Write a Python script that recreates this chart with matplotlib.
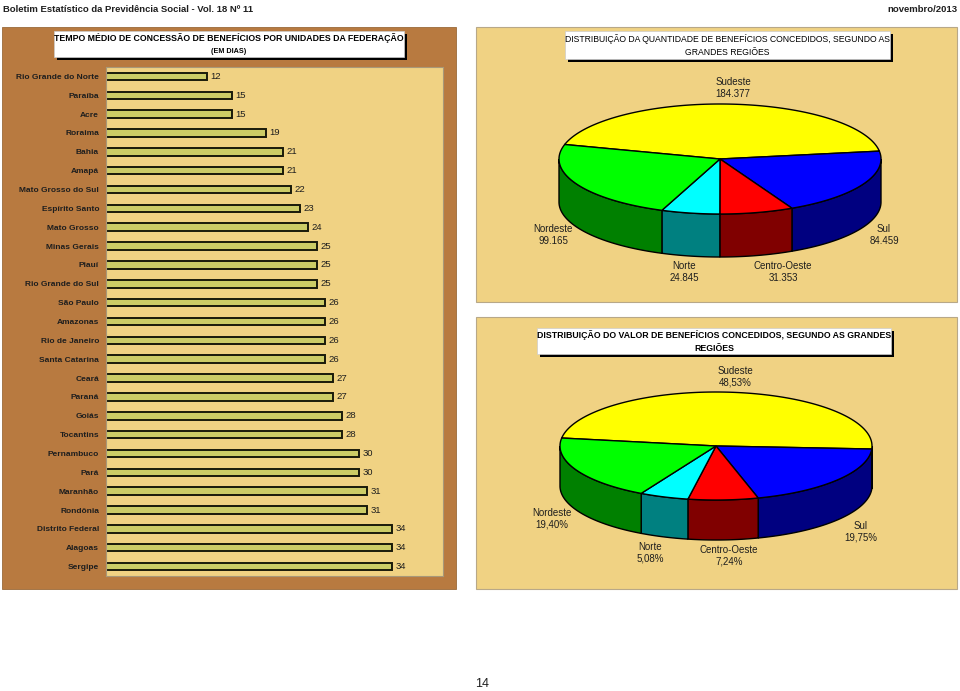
import numpy as np
import matplotlib.pyplot as plt
from matplotlib.patches import Rectangle, Polygon

plt.rcParams['font.family'] = ['Liberation Sans', 'DejaVu Sans']

W, H = 960, 691

# dados - tempo médio de concessão (dias)
estados = ['Rio Grande do Norte', 'Paraíba', 'Acre', 'Roraima', 'Bahia', 'Amapá',
           'Mato Grosso do Sul', 'Espírito Santo', 'Mato Grosso', 'Minas Gerais',
           'Piauí', 'Rio Grande do Sul', 'São Paulo', 'Amazonas', 'Rio de Janeiro',
           'Santa Catarina', 'Ceará', 'Paraná', 'Goiás', 'Tocantins', 'Pernambuco',
           'Pará', 'Maranhão', 'Rondônia', 'Distrito Federal', 'Alagoas', 'Sergipe']
dias = [12, 15, 15, 19, 21, 21, 22, 23, 24, 25, 25, 25, 26, 26, 26, 26,
        27, 27, 28, 28, 30, 30, 31, 31, 34, 34, 34]

# dados - grandes regiões
regioes = ['Sudeste', 'Sul', 'Centro-Oeste', 'Norte', 'Nordeste']
quantidade = [184377, 84459, 31353, 24845, 99165]
valor_pct = [48.53, 19.75, 7.24, 5.08, 19.40]

cor_topo = ['#FFFF00', '#0000FF', '#FF0000', '#00FFFF', '#00FF00']
cor_lado = ['#808000', '#000080', '#800000', '#008080', '#008000']

MARROM = '#B87A40'
BEGE = '#F0D283'
TXT = '#1e1e1e'

fig = plt.figure(figsize=(W / 100, H / 100), dpi=100)
bg = fig.add_axes([0, 0, 1, 1])
bg.set_xlim(0, W)
bg.set_ylim(H, 0)
bg.axis('off')


def px_axes(x0, y0, x1, y1):
    return fig.add_axes([x0 / W, 1 - y1 / H, (x1 - x0) / W, (y1 - y0) / H])


def caixa_titulo(x0, y0, x1, y1, linhas, tamanhos, peso='bold'):
    bg.add_patch(Rectangle((x0 + 3, y0 + 3), x1 - x0, y1 - y0, fc='black', ec='none', zorder=5))
    bg.add_patch(Rectangle((x0, y0), x1 - x0, y1 - y0, fc='white', ec='#cccccc', lw=0.5, zorder=6))
    n = len(linhas)
    h = (y1 - y0) / n
    for i, (s, fs) in enumerate(zip(linhas, tamanhos)):
        bg.text((x0 + x1) / 2, y0 + h * (i + 0.5) + 0.5, s, ha='center', va='center',
                fontsize=fs, fontweight=peso, color='black', zorder=7)


def pizza3d(valores, cx, cy, a, b, prof, inicio):
    total = sum(valores)
    ang = inicio
    for v, ct, cl in zip(valores, cor_topo, cor_lado):
        giro = 360.0 * v / total
        hi, lo = ang, ang - giro
        # paredes laterais visíveis (metade da frente)
        for k in range(-2, 3):
            f0 = max(lo, 180 + 360 * k)
            f1 = min(hi, 360 + 360 * k)
            if f1 > f0:
                t = np.radians(np.linspace(f0, f1, 80))
                xs = cx + a * np.cos(t)
                ys = cy - b * np.sin(t)
                pts = np.column_stack([np.r_[xs, xs[::-1]], np.r_[ys, ys[::-1] + prof]])
                bg.add_patch(Polygon(pts, closed=True, fc=cl, ec='black', lw=1, zorder=3))
        t = np.radians(np.linspace(hi, lo, 160))
        pts = np.column_stack([np.r_[cx, cx + a * np.cos(t)], np.r_[cy, cy - b * np.sin(t)]])
        bg.add_patch(Polygon(pts, closed=True, fc=ct, ec='black', lw=1, zorder=4))
        ang = lo


# cabeçalho
bg.text(3, 9, 'Boletim Estatístico da Previdência Social - Vol. 18 Nº 11', ha='left', va='center',
        fontsize=6.8, fontweight='bold', color=TXT)
bg.text(957, 9, 'novembro/2013', ha='right', va='center', fontsize=6.8, fontweight='bold', color=TXT)
bg.text(482, 684, '14', ha='center', va='center', fontsize=9, color=TXT)

# painéis
bg.add_patch(Rectangle((2, 27), 454, 562, fc=MARROM, ec='#9a6a3a', lw=0.6, zorder=1))
bg.add_patch(Rectangle((476, 27), 481, 275, fc=BEGE, ec='#b8a888', lw=0.8, zorder=1))
bg.add_patch(Rectangle((476, 317), 481, 272, fc=BEGE, ec='#b8a888', lw=0.8, zorder=1))

caixa_titulo(54, 31, 404, 57,
             ['TEMPO MÉDIO DE CONCESSÃO DE BENEFÍCIOS POR UNIDADES DA FEDERAÇÃO', '(EM DIAS)'],
             [6.3, 5.2])
caixa_titulo(565, 31, 890, 59,
             ['DISTRIBUIÇÃO DA QUANTIDADE DE BENEFÍCIOS CONCEDIDOS, SEGUNDO AS', 'GRANDES REGIÕES'],
             [6.2, 6.2], peso='normal')
caixa_titulo(537, 328, 891, 354,
             ['DISTRIBUIÇÃO DO VALOR DE BENEFÍCIOS CONCEDIDOS, SEGUNDO AS GRANDES', 'REGIÕES'],
             [6.35, 6.35])

# gráfico de barras
ax = px_axes(106, 67, 443, 576)
ax.set_facecolor(BEGE)
y = np.arange(len(estados))
ax.barh(y, dias, height=0.4, color='#CCCC66', edgecolor='#1a1a0a', linewidth=1.4)
for yi, v in zip(y, dias):
    ax.text(v + 0.4, yi, str(v), va='center', ha='left', fontsize=6.8, color=TXT)
ax.set_xlim(0, 40)
ax.set_ylim(len(estados) - 0.5, -0.5)
ax.set_yticks(y)
ax.set_yticklabels(estados, fontsize=6.0, fontweight='bold', color=TXT)
ax.tick_params(axis='y', length=0, pad=5)
ax.set_xticks([])
for s in ax.spines.values():
    s.set_color('#a89878')
    s.set_linewidth(0.8)

# pizza 1 - quantidade
pizza3d(quantidade, 720, 159, 161, 55, 43, 164.7)
fmt_q = [f'{v:,}'.replace(',', '.') for v in quantidade]
pos1 = [(733, 88), (884, 235), (783, 272), (684, 272), (553, 235)]
for nome, s, (px, py) in zip(regioes, fmt_q, pos1):
    bg.text(px, py, f'{nome}\n{s}', ha='center', va='center', fontsize=7.0, color=TXT,
            linespacing=1.2, zorder=8)

# pizza 2 - valor
pizza3d(valor_pct, 716, 446, 156, 54, 40, 171.5)
fmt_v = [f'{v:.2f}%'.replace('.', ',') for v in valor_pct]
pos2 = [(735, 377), (861, 532), (729, 556), (650, 553), (552, 519)]
for nome, s, (px, py) in zip(regioes, fmt_v, pos2):
    bg.text(px, py, f'{nome}\n{s}', ha='center', va='center', fontsize=7.0, color=TXT,
            linespacing=1.2, zorder=8)

fig.savefig('out.png', dpi=100, facecolor='white')
